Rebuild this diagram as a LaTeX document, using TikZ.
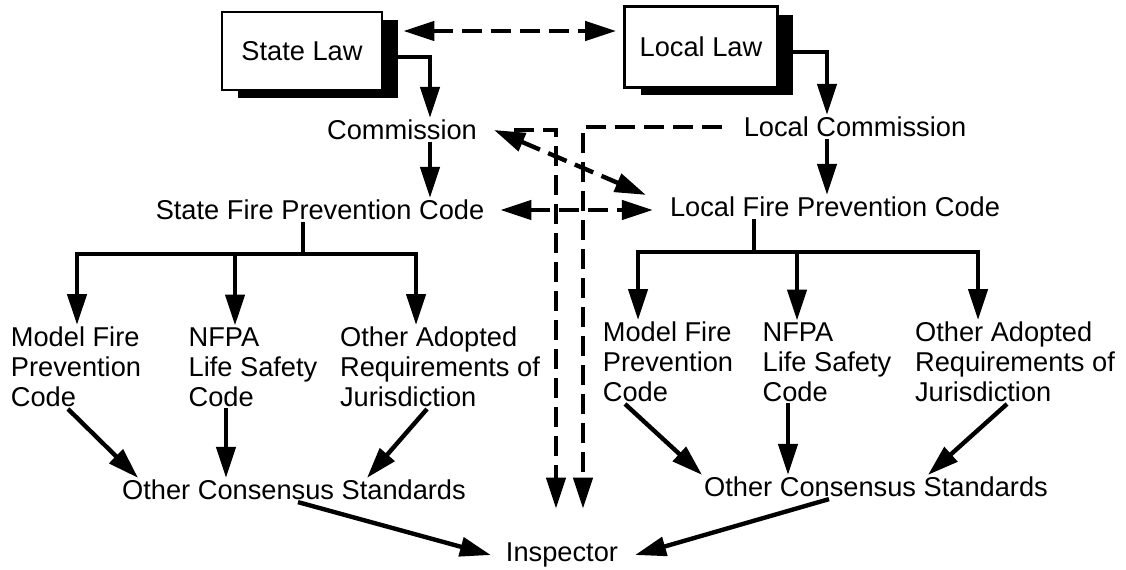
\documentclass[tikz,border=0pt]{standalone}
\usepackage{fontspec}
\setmainfont{Liberation Sans}
\usetikzlibrary{arrows.meta, calc, shadows}

\begin{document}
\begin{tikzpicture}[
    x=0.02cm, y=-0.02cm,
    >={Triangle[length=0.62cm, width=0.38cm]},
    lbl/.style={font=\fontsize{15.5}{17}\selectfont, inner sep=1pt, align=left},
    lawbox/.style={lbl, draw, line width=1.6pt, fill=white, align=center,
      general shadow={fill=black, shadow xshift=0.32cm, shadow yshift=-0.16cm}},
    arrow/.style={->, line width=2.5pt},
    dasharrow/.style={->, line width=2.5pt, dash pattern=on 0.4cm off 0.18cm}
  ]
  \useasboundingbox (0,0) rectangle (1126,569);

  % ---- laws ----
  \node[lawbox, minimum width=3.2cm, minimum height=1.56cm]  (slaw) at (302,51) {State Law};
  \node[lawbox, minimum width=3.06cm, minimum height=1.62cm] (llaw) at (701,47) {Local Law};

  % ---- commissions and fire prevention codes ----
  \node[lbl] (comm)  at (402,130) {Commission};
  \node[lbl] (lcomm) at (855,127) {Local Commission};
  \node[lbl] (sfpc)  at (320,210) {State Fire Prevention Code};
  \node[lbl] (lfpc)  at (835,207) {Local Fire Prevention Code};

  % ---- adopted codes ----
  \node[lbl] (smodel) at (76,367)   {Model Fire\\Prevention\\Code};
  \node[lbl] (snfpa)  at (253,367)  {NFPA\\Life Safety\\Code};
  \node[lbl] (sother) at (440,367)  {Other Adopted\\Requirements of\\Jurisdiction};
  \node[lbl] (lmodel) at (668,362)  {Model Fire\\Prevention\\Code};
  \node[lbl] (lnfpa)  at (827,362)  {NFPA\\Life Safety\\Code};
  \node[lbl] (lother) at (1015,362) {Other Adopted\\Requirements of\\Jurisdiction};

  \node[lbl] (socs) at (294,490) {Other Consensus Standards};
  \node[lbl] (locs) at (876,487) {Other Consensus Standards};
  \node[lbl] (insp) at (562,555) {Inspector};

  % ---- law -> commission -> code ----
  \coordinate (lawy) at (0,31);
  \draw[dasharrow, <->] ([xshift=0.4cm]slaw.east |- lawy) -- ([xshift=-0.14cm]llaw.west |- lawy);
  \draw[arrow] ([yshift=-0.12cm]slaw.east) -| ([xshift=0.56cm]comm.north);
  \draw[arrow] ([yshift=-0.1cm]llaw.east) -| ([xshift=-0.56cm]lcomm.north);
  \draw[arrow] ([xshift=0.56cm]comm.south) -- ([xshift=0.56cm]comm.south |- sfpc.north);
  \draw[arrow] ([xshift=-0.56cm]lcomm.south) -- ([xshift=-0.56cm]lcomm.south |- lfpc.north);

  % ---- state tree ----
  \coordinate (sbar) at (0,254);
  \coordinate (sstem) at ([xshift=-0.34cm]sfpc.south |- sbar);
  \draw[arrow] ([xshift=-0.34cm]sfpc.south) -- (sstem) -| ([xshift=0.02cm]smodel.north);
  \draw[arrow] (sstem) -| ([xshift=-0.36cm]snfpa.north);
  \draw[arrow] (sstem) -| ([xshift=-0.48cm]sother.north);

  % ---- local tree ----
  \coordinate (lbar) at (0,252);
  \coordinate (lstem) at ([xshift=-1.62cm]lfpc.south |- lbar);
  \draw[arrow] ([xshift=-1.62cm]lfpc.south) -- (lstem) -| ([xshift=-0.6cm]lmodel.north);
  \draw[arrow] (lstem) -| ([xshift=-0.6cm]lnfpa.north);
  \draw[arrow] (lstem) -| ([xshift=-0.74cm]lother.north);

  % ---- into the consensus standards ----
  \draw[arrow] ([xshift=-0.16cm]smodel.south) -- ([xshift=0.36cm]socs.north west);
  \draw[arrow] ([xshift=-0.54cm]snfpa.south) -- ([xshift=-0.54cm]snfpa.south |- socs.north);
  \draw[arrow] ([xshift=-0.26cm]sother.south) -- ([xshift=1.46cm]socs.north);
  \draw[arrow] ([xshift=-0.86cm]lmodel.south) -- (locs.north west);
  \draw[arrow] ([xshift=-0.78cm]lnfpa.south) -- ([xshift=-0.78cm]lnfpa.south |- locs.north);
  \draw[arrow] ([xshift=-0.16cm]lother.south) -- ([xshift=1.04cm]locs.north);

  % ---- down to the inspector ----
  \draw[arrow] ([xshift=0.08cm]socs.south) -- ([xshift=-0.26cm]insp.west);
  \draw[arrow] ([xshift=-0.94cm]locs.south) -- ([xshift=0.3cm]insp.east);

  % dashed links between the two sides
  \draw[dasharrow, <->] ([xshift=0.3cm]comm.east) -- ([xshift=-0.44cm]lfpc.north west);
  \draw[dasharrow, <->] ([xshift=0.28cm]sfpc.east) -- ([xshift=-0.3cm]lfpc.west |- sfpc.east);
  \draw[dasharrow] ([xshift=0.7cm]comm.east) -| ([xshift=-0.12cm, yshift=0.64cm]insp.north);
  \draw[dasharrow] ([xshift=-0.4cm]lcomm.west) -| ([xshift=0.42cm, yshift=0.64cm]insp.north);
\end{tikzpicture}
\end{document}
